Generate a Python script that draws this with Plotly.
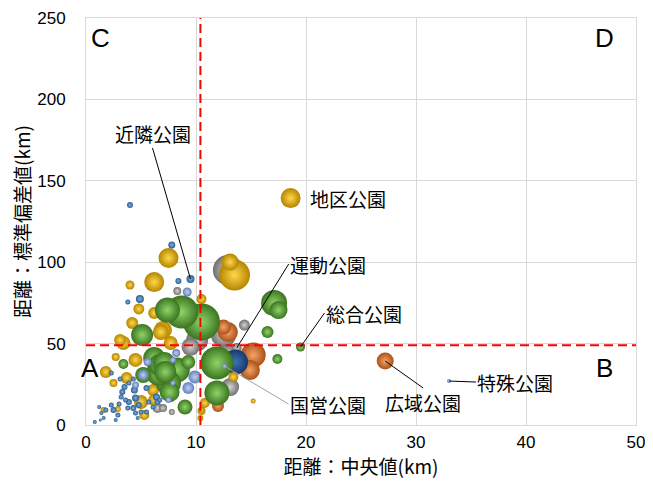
import plotly.graph_objects as go

# ---------------- data ----------------
# 運動公園 (gray)
undo_x = [12.9, 14.4, 13.7, 12.5, 12.9, 13.1, 8.3, 7.8, 6.3, 6.5, 7.7, 10.1, 9.5, 7.0]
undo_y = [95.2, 61.4, 47.3, 55.3, 43.0, 23.3, 82.3, 8.0, 16.6, 10.4, 16.6, 52.0, 48.0, 10.4]
undo_s = [30, 11, 10, 25, 22, 18, 8, 6, 8, 10, 8, 22, 18, 8]

# 広域公園 (orange)
kouiki_x = [27.2, 15.2, 14.9, 12.5, 12.0, 12.9]
kouiki_y = [39.3, 43.0, 33.8, 60.2, 11.7, 57.1]
kouiki_s = [17, 25, 20, 15, 12, 20]

# 国営公園 (navy)
kokuei_x = [13.6]
kokuei_y = [38.7]
kokuei_s = [25]

# 地区公園 (gold)
chiku_x = [18.6, 13.5, 13.1, 7.5, 6.2, 4.0, 4.8, 4.2, 6.2, 7.0, 3.1, 10.5, 3.4, 1.8,
           4.5, 2.7, 5.0, 5.3, 2.9, 1.6, 6.1, 6.2, 7.7, 6.8, 10.8, 10.5, 13.4, 15.2,
           10.4, 10.5, 2.5, 3.7]
chiku_y = [139.4, 92.1, 100.1, 102.6, 87.8, 86.0, 71.3, 62.7, 68.8, 58.4, 52.2, 77.4,
           50.4, 32.6, 40.0, 41.8, 14.1, 6.1, 9.8, 9.2, 21.5, 15.4, 50.4, 57.1, 13.5,
           9.2, 29.5, 14.7, 4.3, 8.6, 25.8, 28.9]
chiku_s = [20, 31, 17, 20, 20, 9, 11, 12, 12, 18, 12, 10, 14, 12, 14, 8, 14, 10, 6, 6,
           12, 12, 14, 16, 10, 6, 10, 5, 6, 8, 8, 12]

# 近隣公園 (blue)
kinrin_x = [4.0, 7.8, 9.5, 8.4, 4.9, 3.8, 2.3, 3.1, 3.5, 3.9, 3.3, 4.4, 4.5, 3.9, 3.6,
            3.2, 2.3, 1.8, 1.4, 2.5, 2.9, 1.6, 1.2, 4.3, 4.8, 5.0, 4.5, 6.4, 6.5, 5.7,
            5.5, 3.8, 3.0, 4.7, 2.7, 0.8, 1.3, 6.1, 6.7, 4.3, 5.5]
kinrin_y = [135.1, 110.6, 89.7, 88.5, 77.4, 75.6, 31.9, 28.3, 23.3, 25.8, 20.3, 21.5,
            16.6, 14.1, 15.4, 17.2, 12.3, 9.2, 7.4, 9.2, 6.1, 4.3, 11.1, 10.4, 12.3,
            8.0, 7.4, 17.2, 14.1, 14.1, 8.0, 10.4, 12.9, 4.3, 3.1, 1.8, 3.1, 11.1,
            15.4, 28.3, 22.7]
kinrin_s = [6, 7, 8, 6, 8, 5, 5, 5, 6, 5, 6, 7, 7, 6, 5, 5, 5, 5, 4, 6, 5, 4, 4, 6, 6,
            5, 5, 7, 6, 5, 5, 5, 5, 4, 4, 4, 3, 5, 5, 5, 6]

# 総合公園 (green)
sougou_x = [8.7, 7.4, 10.5, 5.1, 6.2, 6.7, 8.3, 9.3, 7.5, 9.0, 11.9, 11.9, 3.4, 5.2,
            17.1, 17.5, 16.5, 17.4, 19.5, 7.1, 6.6, 7.2, 7.6]
sougou_y = [69.4, 70.6, 63.3, 55.3, 41.2, 36.9, 33.8, 38.7, 25.8, 11.1, 38.1, 19.7,
            37.5, 30.7, 74.9, 70.6, 57.1, 40.5, 47.9, 38.1, 31.9, 32.6, 20.3]
sougou_s = [33, 25, 37, 22, 22, 22, 25, 14, 25, 15, 33, 25, 10, 16, 26, 18, 12, 10, 9,
            22, 25, 22, 20]

# 特殊公園 (lavender)
tokushu_x = [33.0, 12.6, 9.2, 8.2, 7.9, 9.9, 9.3, 7.9, 5.6, 5.2, 4.5, 7.5]
tokushu_y = [27.0, 36.2, 81.7, 44.2, 39.9, 29.5, 22.7, 25.8, 38.7, 30.7, 24.6, 15.4]
tokushu_s = [4, 5, 9, 8, 6, 13, 12, 5, 8, 10, 7, 6]

median_x = 10.4
median_y = 49.0

x_ticks = [0, 10, 20, 30, 40, 50]
y_ticks = [0, 50, 100, 150, 200, 250]

# ---------------- figure ----------------
series = [
    ("運動公園", undo_x, undo_y, undo_s, "#707070", "#d4d4d4"),
    ("広域公園", kouiki_x, kouiki_y, kouiki_s, "#a9501a", "#f5a465"),
    ("国営公園", kokuei_x, kokuei_y, kokuei_s, "#18386a", "#3e72b4"),
    ("地区公園", chiku_x, chiku_y, chiku_s, "#b58400", "#ffd84a"),
    ("近隣公園", kinrin_x, kinrin_y, kinrin_s, "#2c5d8e", "#79b0e0"),
    ("総合公園", sougou_x, sougou_y, sougou_s, "#3b7420", "#8fd468"),
    ("特殊公園", tokushu_x, tokushu_y, tokushu_s, "#6480bb", "#c0d0f0"),
]

fig = go.Figure()
for name, xs, ys, ss, edge, center in series:
    order = sorted(range(len(xs)), key=lambda i: -ss[i])
    fig.add_trace(go.Scatter(
        x=[xs[i] for i in order], y=[ys[i] for i in order],
        mode="markers", name=name, showlegend=False,
        marker=dict(size=[ss[i] for i in order], sizemode="diameter", sizeref=1,
                    color=edge, gradient=dict(type="radial", color=center),
                    line=dict(width=0), opacity=1),
        hovertemplate=name + ": %{x}, %{y}<extra></extra>",
    ))

red = dict(color="#ff0000", width=2, dash="9px,5px")
fig.add_shape(type="line", xref="x", yref="paper", x0=median_x, x1=median_x, y0=0, y1=1, line=red)
fig.add_shape(type="line", xref="paper", yref="y", x0=0, x1=1, y0=median_y, y1=median_y, line=red)

lab_font = dict(family="Noto Sans CJK JP", size=19, color="#000000")

def label(text, xs, ys, i, ax, ay, xanchor, yanchor, color="#000000"):
    fig.add_annotation(x=xs[i], y=ys[i], text=text, showarrow=True, arrowhead=0,
                       arrowwidth=1, arrowcolor=color, ax=ax, ay=ay,
                       xanchor=xanchor, yanchor=yanchor, font=lab_font, borderpad=0)

label("近隣公園", kinrin_x, kinrin_y, 2, -38, -131, "center", "bottom")
label("運動公園", undo_x, undo_y, 2, 52, -84, "left", "middle")
label("総合公園", sougou_x, sougou_y, 18, 24, -34, "left", "middle")
label("国営公園", tokushu_x, tokushu_y, 1, 64, 38, "left", "middle", color="#a0a0a0")
label("広域公園", kouiki_x, kouiki_y, 0, 38, 27, "center", "top")
label("特殊公園", tokushu_x, tokushu_y, 0, 27, 1, "left", "middle")
fig.add_annotation(x=chiku_x[0], y=chiku_y[0], text="地区公園", showarrow=False,
                   xanchor="left", yanchor="middle", xshift=17, font=lab_font)

q_font = dict(family="Liberation Sans, Arial", size=26, color="#000000")
for t, qx, qy in [("C", 1.3, 238), ("D", 47.1, 238), ("A", 0.4, 35), ("B", 47.1, 35)]:
    fig.add_annotation(x=qx, y=qy, text=t, showarrow=False, font=q_font)

title_font = dict(family="Noto Sans CJK JP", size=19, color="#000000")
axis_common = dict(showgrid=True, gridcolor="#d9d9d9", gridwidth=1, zeroline=False,
                   showline=True, linecolor="#d9d9d9", linewidth=1, ticks="",
                   automargin=False,
                   tickfont=dict(family="Liberation Sans, Arial", size=17, color="#000000"))
fig.update_xaxes(range=[0, 50], tickvals=x_ticks, ticktext=[str(v) for v in x_ticks],
                 title=dict(text="距離：中央値(km)", font=title_font, standoff=2),
                 ticklabelstandoff=2, mirror=True, **axis_common)
fig.update_yaxes(range=[0, 250], tickvals=y_ticks, ticktext=[str(v) for v in y_ticks],
                 title=dict(text="距離：標準偏差値(km)", font=title_font, standoff=1),
                 ticklabelstandoff=16, mirror=True, **axis_common)

# the page body adds an 8px offset, so the figure is sized to land the plot area
# where the reference has it
fig.update_layout(width=645, height=475, margin=dict(l=78, r=17, t=10, b=58),
                  paper_bgcolor="white", plot_bgcolor="white", showlegend=False)

fig.write_html("out.html")
